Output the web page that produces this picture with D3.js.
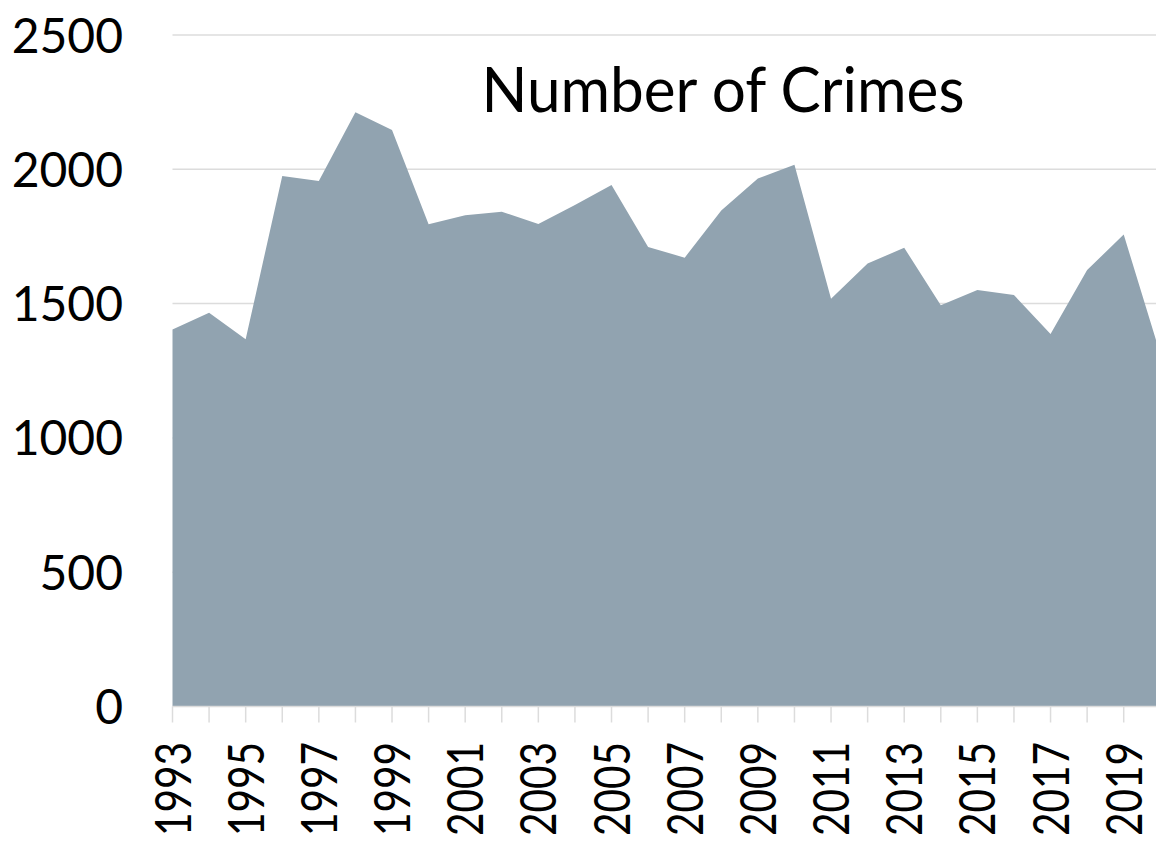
<!DOCTYPE html>
<html>
<head>
<meta charset="utf-8">
<script src="https://cdn.jsdelivr.net/npm/d3@7"></script>
<style>
  html, body { margin: 0; padding: 0; background: #fff; overflow: hidden; }
  svg { display: block; }
  text { font-family: Lato, "Open Sans", sans-serif; fill: #000; }
</style>
</head>
<body>
<svg id="chart" width="1156" height="848"></svg>
<script>
const years = [1993,1994,1995,1996,1997,1998,1999,2000,2001,2002,2003,2004,2005,2006,2007,2008,2009,2010,2011,2012,2013,2014,2015,2016,2017,2018,2019,2020];
const crimes = [1404,1466,1367,1975,1956,2212,2146,1795,1829,1842,1796,1867,1942,1711,1671,1847,1966,2017,1518,1649,1708,1494,1551,1532,1387,1625,1757,1312];
const yTicks = [0,500,1000,1500,2000,2500];
const xLabelYears = [1993,1995,1997,1999,2001,2003,2005,2007,2009,2011,2013,2015,2017,2019];
const title = "Number of Crimes";

const data = years.map((y, i) => ({year: y, value: crimes[i]}));

const svg = d3.select("#chart");
const x = d3.scaleLinear().domain([1993, 2020]).range([172.5, 1160.3]);
const y = d3.scaleLinear().domain([0, 2500]).range([706.5, 35]);

// gridlines
svg.append("g").selectAll("line").data(yTicks.filter(d => d > 0)).join("line")
  .attr("x1", x(1993)).attr("x2", 1156)
  .attr("y1", d => y(d)).attr("y2", d => y(d))
  .attr("stroke", "#dcdcdc").attr("stroke-width", 1.5);

// area
const area = d3.area().x(d => x(d.year)).y0(y(0)).y1(d => y(d.value));
svg.append("path").datum(data).attr("d", area).attr("fill", "#91a3b0");

// x axis line and ticks
svg.append("line").attr("x1", x(1993)).attr("x2", 1156)
  .attr("y1", y(0)).attr("y2", y(0)).attr("stroke", "#dcdcdc").attr("stroke-width", 1.5);
svg.append("g").selectAll("line").data(years).join("line")
  .attr("x1", d => x(d)).attr("x2", d => x(d))
  .attr("y1", y(0)).attr("y2", y(0) + 16)
  .attr("stroke", "#dcdcdc").attr("stroke-width", 1.5);

// x labels
svg.append("g").selectAll("text").data(xLabelYears).join("text")
  .attr("transform", d => `translate(${x(d) + 18},742) rotate(-90)`)
  .attr("text-anchor", "end")
  .attr("font-size", 50)
  .attr("textLength", 94)
  .attr("lengthAdjust", "spacingAndGlyphs")
  .text(d => d);

// y labels
svg.append("g").selectAll("text").data(yTicks).join("text")
  .attr("x", 123).attr("y", d => y(d) + 17.5)
  .attr("text-anchor", "end")
  .attr("font-size", 48)
  .text(d => d);

// title
svg.append("text").attr("x", 723).attr("y", 111.7)
  .attr("text-anchor", "middle").attr("font-size", 62)
  .attr("textLength", 483).attr("lengthAdjust", "spacingAndGlyphs")
  .text(title);
</script>
</body>
</html>
